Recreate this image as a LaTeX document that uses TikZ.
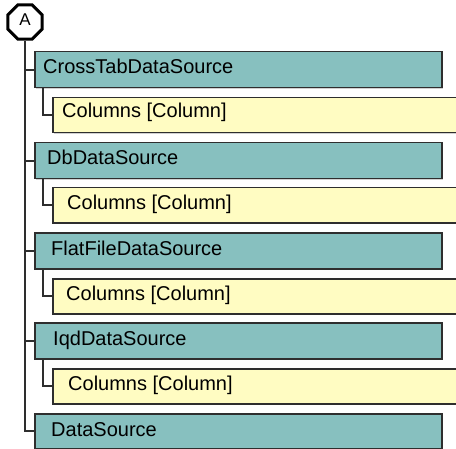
\documentclass[tikz,border=0pt]{standalone}
\usepackage{fontspec}
\setmainfont{Liberation Sans}
\usetikzlibrary{shapes.geometric,shadows}
\definecolor{tealbox}{HTML}{87C0BF}
\definecolor{yelbox}{HTML}{FFFCC2}
\definecolor{edge}{HTML}{2E2E2E}
\tikzset{
  boxbase/.style={draw=edge, line width=1.5bp, rectangle, anchor=north west, inner sep=0pt,
    drop shadow={shadow xshift=1.2bp, shadow yshift=-1.2bp, fill=black, opacity=0.18}},
  tbox/.style={boxbase, fill=tealbox, minimum width=407bp, minimum height=36bp},
  ybox/.style={boxbase, fill=yelbox, minimum width=403.5bp, minimum height=35bp},
  lbl/.style={anchor=base west, inner sep=0pt, font=\fontsize{20bp}{22bp}\selectfont, text=black},
  conn/.style={draw=edge, line width=1.7bp},
}
\begin{document}
\begin{tikzpicture}[x=1bp,y=-1bp]
\useasboundingbox (0,0) rectangle (456,449);
% root octagon
\node[regular polygon, regular polygon sides=8, draw=black, line width=3bp, fill=white,
      minimum size=37bp, inner sep=0pt] (A) at (25,22) {};
\node[font=\fontsize{17bp}{18bp}\selectfont, inner sep=0pt, anchor=base] (Alab) at (25,26) {A};

% teal boxes
\node[tbox] (cts) at (34,51) {};
\node[tbox] (db)  at (34,142) {};
\node[tbox] (ff)  at (34,232) {};
\node[tbox] (iqd) at (34,322) {};
\node[tbox, minimum height=35bp] (ds)  at (34,413) {};
% yellow boxes
\node[ybox] (c1) at (52,97) {};
\node[ybox] (c2) at (52,187) {};
\node[ybox] (c3) at (52,278) {};
\node[ybox] (c4) at (52,368) {};

% labels
\node[lbl] (ctsl) at (43,74) {CrossTabDataSource};
\node[lbl] (dbl)  at (47,165) {DbDataSource};
\node[lbl] (ffl)  at (51,255) {FlatFileDataSource};
\node[lbl] (iqdl) at (53,345) {IqdDataSource};
\node[lbl] (dsl)  at (51,436) {DataSource};
\node[lbl] (c1l) at (62,118) {Columns [Column]};
\node[lbl] (c2l) at (67,210) {Columns [Column]};
\node[lbl] (c3l) at (66,300) {Columns [Column]};
\node[lbl] (c4l) at (68,390) {Columns [Column]};

% connectors
\draw[conn] (A.south) |- (ds.west);
\foreach \n in {cts,db,ff,iqd}{
  \draw[conn] (A.south |- \n.west) -- (\n.west);
}
\draw[conn] ([xshift=9bp]cts.south west) |- (c1.west);
\draw[conn] ([xshift=9bp]db.south west) |- (c2.west);
\draw[conn] ([xshift=9bp]ff.south west) |- (c3.west);
\draw[conn] ([xshift=9bp]iqd.south west) |- (c4.west);
\end{tikzpicture}
\end{document}
